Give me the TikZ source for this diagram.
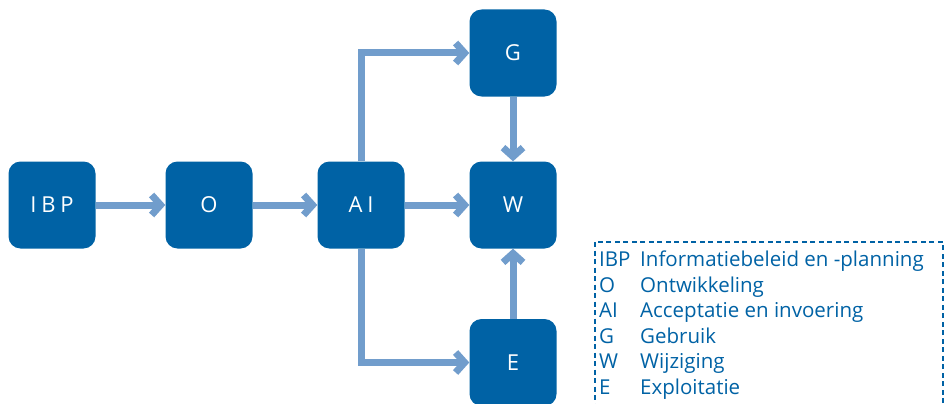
\documentclass[tikz,border=0pt]{standalone}
\usepackage{fontspec}
\setmainfont{Open Sans}
\usetikzlibrary{arrows.meta}
\definecolor{boxblue}{HTML}{0062A5}
\definecolor{arrowblue}{HTML}{719DCC}
\tikzset{
  blk/.style={fill=boxblue, text=white, rounded corners=12pt, minimum width=87pt, minimum height=87pt, inner sep=0pt, font=\fontsize{22}{26}\selectfont},
  flow/.style={draw=arrowblue, line width=7pt, -{Straight Barb[length=9pt,width=20pt]}},
}
\begin{document}
\begin{tikzpicture}[x=1pt,y=-1pt]
\useasboundingbox (0,0) rectangle (945,404);
\node[blk] (IBP) at (52,205) {\addfontfeature{LetterSpace=22}IBP};
\node[blk] (O) at (209,205) {O};
\node[blk] (AI) at (361,205) {\addfontfeature{LetterSpace=22}AI};
\node[blk] (G) at (513,53) {G};
\node[blk] (W) at (513,205) {W};
\node[blk] (E) at (513,362.5) {E};
\draw[flow] (IBP) -- (O);
\draw[flow] (O) -- (AI);
\draw[flow] (AI) -- (W);
\draw[flow] (AI.north) |- (G.west);
\draw[flow] (AI.south) |- (E.west);
\draw[flow] (G) -- (W);
\draw[flow] (E) -- (W);
\draw[boxblue, line width=2.6pt, dash pattern=on 5pt off 3.5pt] (595,242) rectangle (943,412);
\node[anchor=north west, inner sep=0pt, text=boxblue, font=\fontsize{20.5}{25.5}\selectfont] (legend) at (599,248.6) {%
\begin{tabular}{@{}p{41pt}@{}l@{}}
IBP & Informatiebeleid en -planning\\
O & Ontwikkeling\\
AI & Acceptatie en invoering\\
G & Gebruik\\
W & Wijziging\\
E & Exploitatie
\end{tabular}};
\end{tikzpicture}
\end{document}
